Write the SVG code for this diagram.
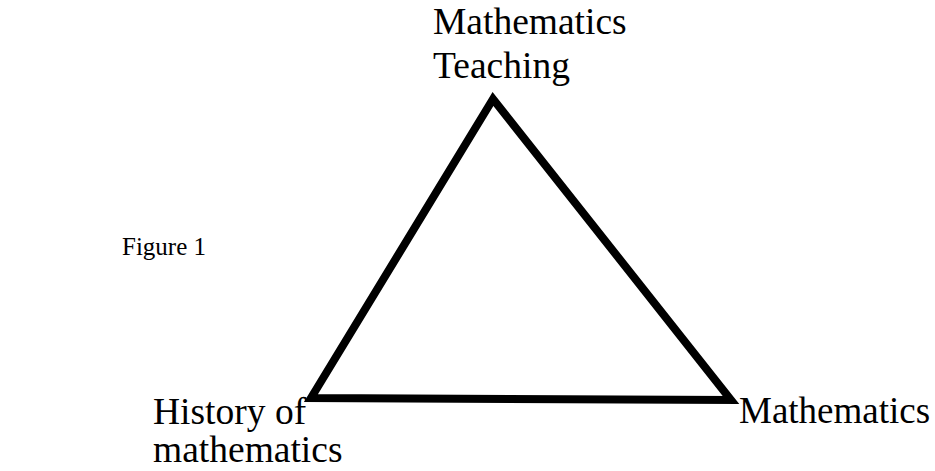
<svg xmlns="http://www.w3.org/2000/svg" width="935" height="471" viewBox="0 0 935 471">
<style>
.t{font-family:"Liberation Serif","Times New Roman",serif;font-size:37.5px;fill:#000}
.f{font-family:"Liberation Serif","Times New Roman",serif;font-size:25px;fill:#000}
</style>
<rect width="935" height="471" fill="#fff"/>
<g id="connectors">
<polygon points="493,99 311,398 731,400" fill="none" stroke="#000" stroke-width="8" stroke-linejoin="miter"/>
</g>
<g id="node-teaching">
<text class="t" x="433" y="34">Mathematics</text>
<text class="t" x="433" y="78">Teaching</text>
</g>
<g id="node-history">
<text class="t" x="153" y="424">History of</text>
<text class="t" x="153" y="462">mathematics</text>
</g>
<g id="node-mathematics">
<text class="t" x="739" y="423" style="font-size:37px">Mathematics</text>
</g>
<g id="caption">
<text class="f" x="122" y="255">Figure 1</text>
</g>
</svg>
